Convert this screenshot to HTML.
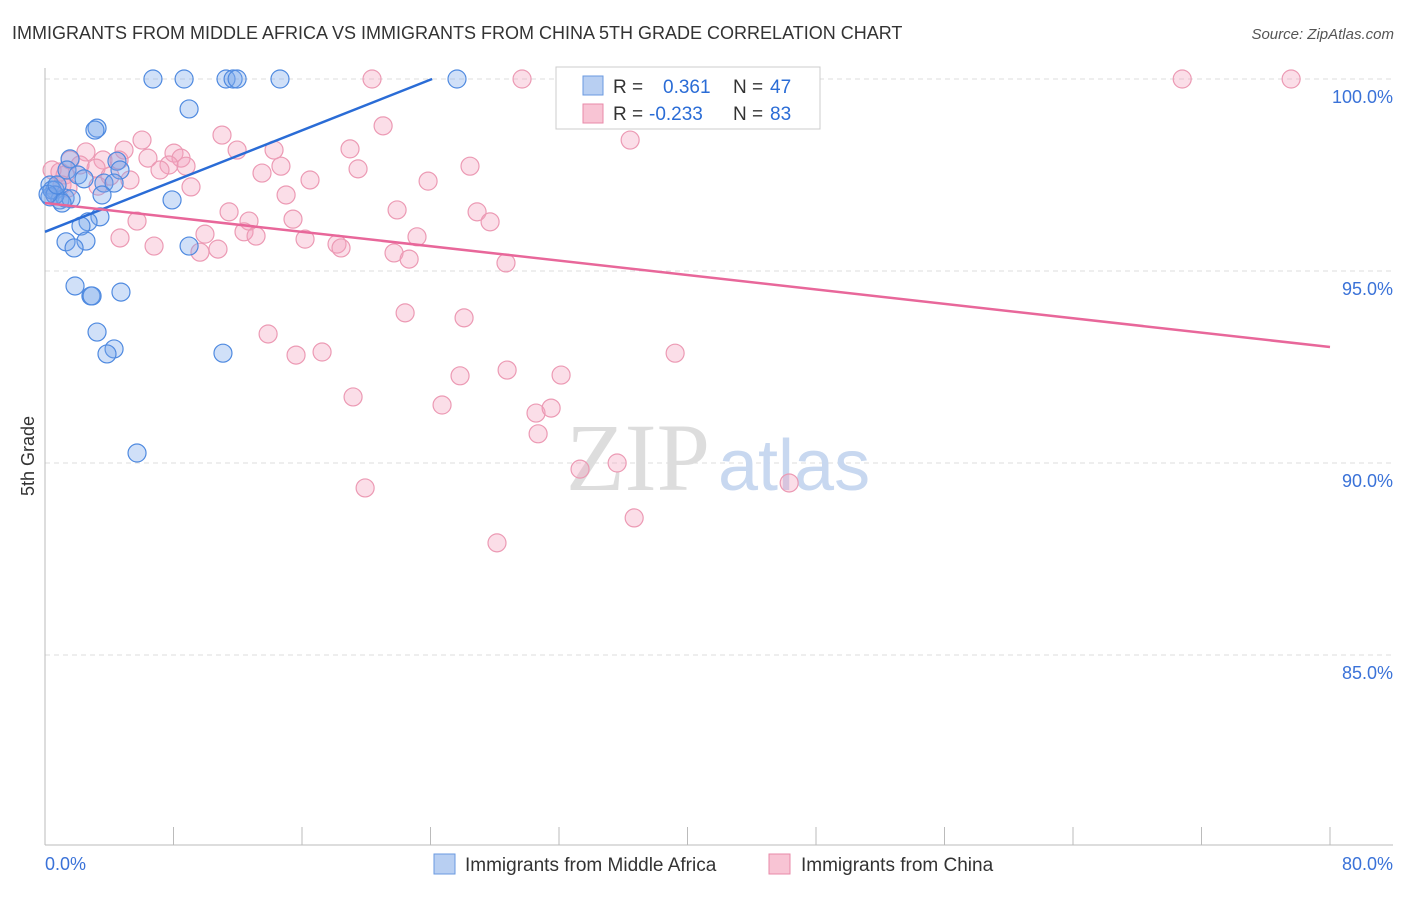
<!DOCTYPE html>
<html><head><meta charset="utf-8"><style>
body{margin:0;background:#fff;font-family:"Liberation Sans",sans-serif}
</style></head><body>
<svg width="1406" height="892" xmlns="http://www.w3.org/2000/svg">
<text x="12" y="39" font-size="18" fill="#333">IMMIGRANTS FROM MIDDLE AFRICA VS IMMIGRANTS FROM CHINA 5TH GRADE CORRELATION CHART</text>
<text x="1394" y="39" font-size="15" fill="#555" font-style="italic" text-anchor="end">Source: ZipAtlas.com</text>
<text x="34" y="456" font-size="18" fill="#333" transform="rotate(-90 34 456)" text-anchor="middle">5th Grade</text>
<g id="grid"></g>
<text x="710" y="490" font-size="96" fill="#ddd" font-family="Liberation Serif" text-anchor="end">ZIP</text>
<text x="718" y="490" font-size="72" fill="#c8d8f0">atlas</text>
<g id="pts"></g>
<g id="trend"></g>
<g>
<rect x="556" y="67" width="264" height="62" fill="#fff" stroke="#ccc"/>
<rect x="583" y="76" width="20" height="19" fill="#b8cff2" stroke="#6a9ae0"/>
<rect x="583" y="104" width="20" height="19" fill="#f8c4d4" stroke="#e88aa8"/>
<text x="613" y="93" font-size="19" fill="#333">R = </text><text x="663" y="93" font-size="19" fill="#2a6cd6">0.361</text>
<text x="733" y="93" font-size="19" fill="#333">N = </text><text x="770" y="93" font-size="19" fill="#2a6cd6">47</text>
<text x="613" y="120" font-size="19" fill="#333">R = </text><text x="649" y="120" font-size="19" fill="#2a6cd6">-0.233</text>
<text x="733" y="120" font-size="19" fill="#333">N = </text><text x="770" y="120" font-size="19" fill="#2a6cd6">83</text>
</g>
<g>
<rect x="434" y="854" width="21" height="20" fill="#b8cff2" stroke="#6a9ae0"/>
<text x="465" y="871" font-size="19" fill="#333">Immigrants from Middle Africa</text>
<rect x="769" y="854" width="21" height="20" fill="#f8c4d4" stroke="#e88aa8"/>
<text x="801" y="871" font-size="19" fill="#333">Immigrants from China</text>
</g>
</svg>
<script>
const yTicks=[100,95,90,85];
const xTickLabels=["0.0%","80.0%"];
const blueX=[6.72,8.66,11.27,11.71,11.96,14.63,25.65,8.97,3.24,3.11,1.56,4.48,4.67,1.37,2.05,2.43,3.67,4.3,0.31,0.62,0.31,0.93,1.25,1.62,7.91,3.55,3.42,2.68,2.24,1.31,2.55,1.81,8.97,1.87,2.86,2.93,4.73,3.24,4.3,3.86,11.08,5.73,0.44,0.62,1.06,0.19,0.75];
const blueY=[100,100,100,100,100,100,100,99.22,98.72,98.67,97.92,97.86,97.63,97.63,97.5,97.4,97.29,97.29,97.24,97.11,96.93,96.85,96.9,96.88,96.85,96.98,96.41,96.28,96.17,95.76,95.78,95.6,95.65,94.61,94.35,94.35,94.45,93.41,92.97,92.84,92.86,90.26,97.11,96.98,96.77,97.0,97.24];
const pinkX=[20.36,29.70,32.81,70.80,77.58,6.04,11.02,21.05,36.43,2.55,4.92,6.41,8.03,8.47,11.96,14.26,18.99,3.61,4.61,7.72,7.16,8.78,1.56,0.44,0.93,1.25,3.18,2.18,13.51,14.69,19.49,26.46,9.09,15.01,16.50,23.85,11.46,15.44,21.92,26.90,27.71,5.73,12.70,12.39,13.14,9.96,16.19,18.18,18.43,23.16,4.67,6.79,9.65,10.77,21.73,22.67,28.70,1.43,22.42,26.09,13.89,15.63,17.25,39.23,25.84,28.77,32.13,19.18,24.72,30.57,31.51,30.70,33.31,35.62,19.93,36.68,46.33,28.14,0.62,1.06,3.30,5.29,4.05];
const pinkY=[100,100,100,100,100,98.41,98.54,98.78,98.41,98.10,98.15,97.94,98.07,97.94,98.15,98.15,98.18,97.89,97.89,97.76,97.63,97.73,97.89,97.63,97.58,97.5,97.68,97.76,97.55,97.73,97.66,97.73,97.19,96.98,97.37,97.34,96.54,96.35,96.59,96.54,96.28,96.30,96.30,96.02,95.91,95.96,95.83,95.70,95.60,95.89,95.86,95.65,95.49,95.57,95.47,95.31,95.21,97.16,93.91,93.78,93.36,92.81,92.89,92.86,92.27,92.42,92.29,91.72,91.51,91.30,91.43,90.76,89.84,90.0,89.35,88.57,89.48,87.92,96.98,97.24,97.21,97.37,97.47];
const blueTrend=[0,96.02,24.1,100];
const pinkTrend=[0,96.77,80,93.02];
const NS="http://www.w3.org/2000/svg";
const sx=v=>45+v*(1285/80);
const sy=v=>79+(100-v)*38.4;
function mk(t,a,p){const e=document.createElementNS(NS,t);for(const k in a)e.setAttribute(k,a[k]);p.appendChild(e);return e;}
const grid=document.getElementById('grid');
yTicks.forEach(v=>{
 const l=mk('line',{x1:45,x2:1393,y1:sy(v),y2:sy(v),stroke:'#ddd','stroke-dasharray':'5,4'},grid);
 
 
 const t=mk('text',{x:1393,y:sy(v)+24,'font-size':18,fill:'#3a72d8','text-anchor':'end'},grid);
 t.textContent=v.toFixed(1)+'%';
 
 
});
const ax=mk('line',{x1:45,x2:45,y1:68,y2:845,stroke:'#bbb'},grid);


const bx=mk('line',{x1:45,x2:1393,y1:845,y2:845,stroke:'#bbb'},grid);


for(let i=0;i<=10;i++){
 const tk=mk('line',{x1:sx(i*8),x2:sx(i*8),y1:827,y2:845,stroke:'#bbb'},grid);
 
 
}
[[0,'start'],[80,'end']].forEach((p,i)=>{
 const t=mk('text',{x:i?1393:45,y:870,'font-size':18,fill:'#3a72d8','text-anchor':p[1]},grid);
 t.textContent=xTickLabels[i];
 
 
});
const pts=document.getElementById('pts');
pinkX.forEach((x,i)=>{
 const c=mk('circle',{cx:sx(x),cy:sy(pinkY[i]),r:9,fill:'rgba(244,160,188,0.35)',stroke:'#ec9ab4','stroke-width':1.2},pts);
 
 
});
blueX.forEach((x,i)=>{
 const c=mk('circle',{cx:sx(x),cy:sy(blueY[i]),r:9,fill:'rgba(120,165,235,0.35)',stroke:'#4f8ae0','stroke-width':1.2},pts);
 
 
});
const tr=document.getElementById('trend');
const l1=mk('line',{x1:sx(blueTrend[0]),y1:sy(blueTrend[1]),x2:sx(blueTrend[2]),y2:sy(blueTrend[3]),stroke:'#2a6cd6','stroke-width':2.5},tr);


const l2=mk('line',{x1:sx(pinkTrend[0]),y1:sy(pinkTrend[1]),x2:sx(pinkTrend[2]),y2:sy(pinkTrend[3]),stroke:'#e8679a','stroke-width':2.5},tr);


</script>
</body></html>
